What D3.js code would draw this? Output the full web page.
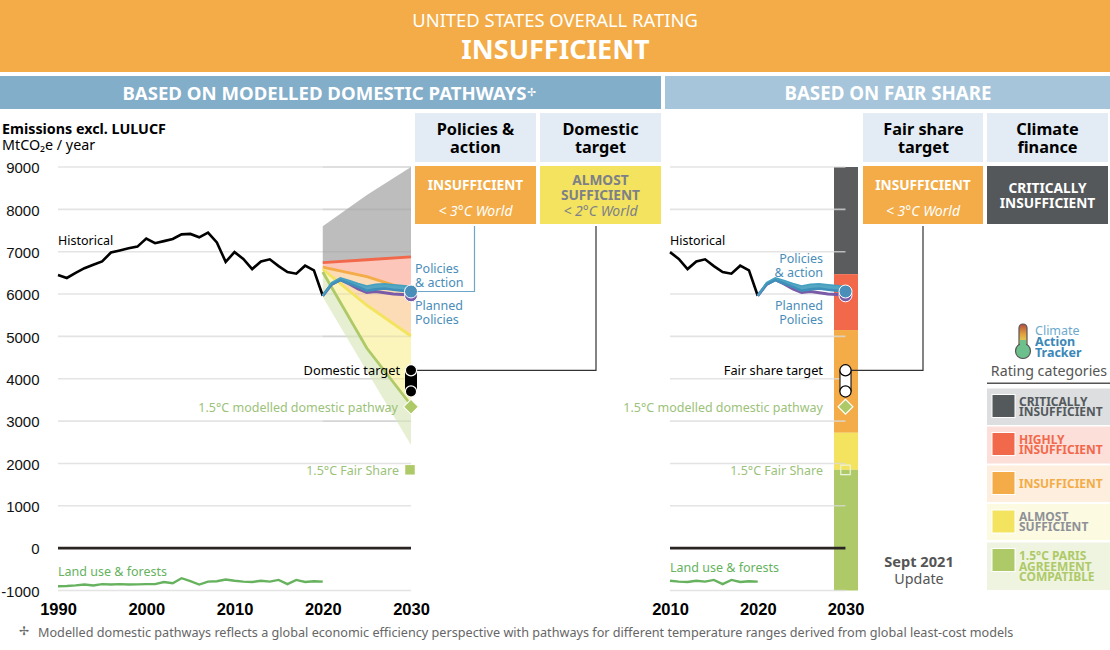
<!DOCTYPE html>
<html><head><meta charset="utf-8">
<script src="https://cdn.jsdelivr.net/npm/d3@7"></script>
<style>html,body{margin:0;padding:0;background:#fff}svg{display:block;font-family:"Noto Sans",sans-serif}</style>
</head><body><svg id="c" width="1110" height="650"></svg>
<script>
const histYears=d3.range(1990,2021);
const historical=[6450,6380,6500,6610,6690,6770,6980,7030,7080,7120,7310,7200,7250,7300,7410,7420,7340,7450,7220,6760,6990,6830,6590,6770,6820,6660,6520,6480,6670,6560,5960];
const landUse=[-900,-895,-880,-860,-880,-850,-860,-850,-860,-855,-850,-850,-800,-830,-710,-780,-860,-790,-780,-740,-770,-790,-800,-770,-790,-750,-850,-750,-800,-780,-790];
const rangeYears=[2020,2025,2030];
const greyTop=[7600,8340,9000];
const redLine=[6740,6810,6880];
const orangeLine=[6635,6410,6080];
const yellowLine=[6585,5735,5010];
const greenLine=[6520,4720,3380];
const greenBottom=[5930,4180,2435];
const policyYears=d3.range(2020,2031);
const policyUpper=[5960,6270,6380,6320,6250,6190,6230,6240,6220,6200,6180];
const policyLower=[5960,6230,6330,6250,6170,6080,6110,6130,6100,6080,6060];
const plannedPolicies=[5960,6230,6340,6240,6120,6040,6060,6030,6000,5990,5970];
const domesticTarget=[4200,3700];
const fairTarget=[4200,3700];
const modelled15=3340;
const fairShare15=1850;
const ratingBounds=[9000,6470,5150,2725,1850,-1000];
const ratingColours=["#5a5c5e","#f1684a","#f3ac47","#f3e35f","#aeca68"];
const yTicks=[9000,8000,7000,6000,5000,4000,3000,2000,1000,0,-1000];
const xTicksL=[1990,2000,2010,2020,2030];
const xTicksR=[2010,2020,2030];
const legendItems=[
 {lines:["CRITICALLY","INSUFFICIENT"],bg:"#dcdee0",sw:"#54595c",tx:"#54595c"},
 {lines:["HIGHLY","INSUFFICIENT"],bg:"#fddfd9",sw:"#f1684a",tx:"#f1684a"},
 {lines:["INSUFFICIENT"],bg:"#fdeedd",sw:"#f3ac47",tx:"#f3ac47"},
 {lines:["ALMOST","SUFFICIENT"],bg:"#fdfae2",sw:"#f3e35f",tx:"#8e9196"},
 {lines:["1.5°C PARIS","AGREEMENT","COMPATIBLE"],bg:"#eff4e1",sw:"#aeca68",tx:"#aeca68"}];

const svg=d3.select("#c");
const y=d3.scaleLinear().domain([-1000,9000]).range([590.5,167]);
const xL=d3.scaleLinear().domain([1990,2030]).range([58,411]);
const xR=d3.scaleLinear().domain([2010,2030]).range([670,845.5]);
const BLUE="#4a8db8",GREEN="#9cc27a",ORG="#f3ac47";

function rect(x,yy,w,h,f){return svg.append("rect").attr("x",x).attr("y",yy).attr("width",w).attr("height",h).attr("fill",f);}
function text(x,yy,s,o={}){const t=svg.append("text").attr("x",x).attr("y",yy).text(s)
 .attr("text-anchor",o.a||"start").attr("font-size",o.s||12.5).attr("fill",o.c||"#000")
 .attr("font-weight",o.w||400);if(o.i)t.attr("font-style","italic");return t;}

// header
rect(0,0,1110,72,ORG);
text(555,27,"UNITED STATES OVERALL RATING",{a:"middle",s:18.4,c:"#fff"});
text(555.5,59,"INSUFFICIENT",{a:"middle",s:27,c:"#fff",w:700});
rect(0,76,661,33,"#83aeca");rect(665,76,445,33,"#a6c5da");
text(324.5,99.5,"BASED ON MODELLED DOMESTIC PATHWAYS",{a:"middle",s:18.6,c:"#fff",w:700});
text(527,96,"✢",{s:11,c:"#fff"});
text(888,99.5,"BASED ON FAIR SHARE",{a:"middle",s:18.7,c:"#fff",w:700});

// column headers
[[415,["Policies &","action"]],[540,["Domestic","target"]],[863,["Fair share","target"]],[987,["Climate","finance"]]].forEach(([x,l])=>{
 rect(x,113,x==863?120:121,49,"#e3ecf4");
 l.forEach((s,i)=>text(x+60.5,135+i*18,s,{a:"middle",s:16.3,w:700}));
});
rect(415,166,121,58,ORG);rect(540,166,121,58,"#f3e35f");rect(863,166,120,58,ORG);rect(987,166,121,58,"#54585a");
text(475.5,190,"INSUFFICIENT",{a:"middle",s:13.7,c:"#fff",w:700});
text(475.5,216,"< 3°C World",{a:"middle",s:14,c:"#fff",i:1,w:400});
text(600.5,185,"ALMOST",{a:"middle",s:13.7,c:"#7d8088",w:700});
text(600.5,200,"SUFFICIENT",{a:"middle",s:13.7,c:"#7d8088",w:700});
text(600.5,216,"< 2°C World",{a:"middle",s:14,c:"#7d8088",i:1,w:400});
text(923,190,"INSUFFICIENT",{a:"middle",s:13.7,c:"#fff",w:700});
text(923,216,"< 3°C World",{a:"middle",s:14,c:"#fff",i:1,w:400});
text(1047.5,193,"CRITICALLY",{a:"middle",s:13.7,c:"#fff",w:700});
text(1047.5,208,"INSUFFICIENT",{a:"middle",s:13.7,c:"#fff",w:700});

// titles
text(2,134,"Emissions excl. LULUCF",{s:14.3,w:700});
text(2,150,"MtCO₂e / year",{s:14.3});

// grid
function grid(x,a,b){svg.append("g").selectAll("line").data(yTicks).join("line")
 .attr("x1",x(a)).attr("x2",x(b)).attr("y1",d=>y(d)).attr("y2",d=>y(d))
 .attr("stroke","#e4e4e4").attr("stroke-width",1.6);}
grid(xL,1990,2030);

// right bar
const bars=ratingColours.map((c,i)=>({c,a:ratingBounds[i],b:ratingBounds[i+1]}));
svg.append("g").selectAll("rect").data(bars).join("rect")
 .attr("x",xR(2030)-11.5).attr("width",24).attr("y",d=>y(d.a)).attr("height",d=>y(d.b)-y(d.a)).attr("fill",d=>d.c);
svg.append("g").attr("opacity",.75).call(g=>g.selectAll("line").data(yTicks).join("line")
 .attr("x1",xR(2010)).attr("x2",xR(2030)).attr("y1",d=>y(d)).attr("y2",d=>y(d))
 .attr("stroke","#dcdcdc").attr("stroke-width",1.6));

// left fans
function band(top,bot,fill){const a=d3.area().x((d,i)=>xL(rangeYears[i])).y0((d,i)=>y(bot[i])).y1((d,i)=>y(top[i]));
 svg.append("path").attr("d",a(rangeYears)).attr("fill",fill);}
band(greyTop,redLine,"#bdbdbd");
band(redLine,orangeLine,"#fcc6ba");
band(orangeLine,yellowLine,"#fbdcb6");
band(yellowLine,greenLine,"#fbf5bb");
band(greenLine,greenBottom,"#e6efd2");
// gridlines showing through the fans
svg.append("g").selectAll("line").data(yTicks.filter(d=>d>=3000)).join("line")
 .attr("x1",xL(2020)).attr("x2",xL(2030)).attr("y1",d=>y(d)).attr("y2",d=>y(d))
 .attr("stroke","#777").attr("stroke-opacity",.13).attr("stroke-width",1.6);
function rline(v,c){const l=d3.line().x((d,i)=>xL(rangeYears[i])).y(d=>y(d));
 svg.append("path").attr("d",l(v)).attr("fill","none").attr("stroke",c).attr("stroke-width",2.8);}
rline(redLine,"#f1684a");rline(orangeLine,ORG);rline(yellowLine,"#f3e35f");rline(greenLine,"#aeca68");

// connector lines
const conn=d3.line();
svg.append("path").attr("d",conn([[474.5,226],[474.5,y(policyLower[10])],[xL(2030),y(policyLower[10])]])).attr("fill","none").attr("stroke","#6ea6c9").attr("stroke-width",1.2);
svg.append("path").attr("d",conn([[596,226],[596,y(domesticTarget[0])],[xL(2030),y(domesticTarget[0])]])).attr("fill","none").attr("stroke","#333").attr("stroke-width",1.2);
svg.append("path").attr("d",conn([[923,226],[923,y(fairTarget[0])],[xR(2030),y(fairTarget[0])]])).attr("fill","none").attr("stroke","#333").attr("stroke-width",1.2);

// series
function drawSeries(x,from){
 const idx=histYears.map((d,i)=>i).filter(i=>histYears[i]>=from);
 const l=d3.line().x(i=>x(histYears[i])).y(i=>y(historical[i]));
 svg.append("path").attr("d",l(idx)).attr("fill","none").attr("stroke","#000").attr("stroke-width",2.6).attr("stroke-linejoin","miter");
 const u=d3.line().x(i=>x(histYears[i])).y(i=>y(landUse[i]));
 svg.append("path").attr("d",u(idx)).attr("fill","none").attr("stroke","#66b25e").attr("stroke-width",2.4);
 svg.append("line").attr("x1",x(from)).attr("x2",x(2030)).attr("y1",y(0)).attr("y2",y(0)).attr("stroke","#2a2422").attr("stroke-width",2.6);
 const pl=d3.line().x((d,i)=>x(policyYears[i])).y(d=>y(d));
 svg.append("path").attr("d",pl(plannedPolicies)).attr("fill","none").attr("stroke","#7a5ba8").attr("stroke-width",3);
 const ar=d3.area().x((d,i)=>x(policyYears[i])).y0((d,i)=>y(policyLower[i])).y1((d,i)=>y(policyUpper[i]));
 svg.append("path").attr("d",ar(policyYears)).attr("fill","#55a6c2");
 svg.append("path").attr("d",pl(policyLower)).attr("fill","none").attr("stroke","#3f8fbb").attr("stroke-width",2.6);
 svg.append("path").attr("d",pl(policyUpper)).attr("fill","none").attr("stroke","#45a0c0").attr("stroke-width",1.6);
 svg.append("circle").attr("cx",x(2030)).attr("cy",y(plannedPolicies[10])).attr("r",6.5).attr("fill","#7a5ba8").attr("stroke","#fff").attr("stroke-width",1);
 svg.append("circle").attr("cx",x(2030)).attr("cy",y(policyLower[10])).attr("r",6.5).attr("fill","#4a8fba").attr("stroke","#fff").attr("stroke-width",1);
}
drawSeries(xL,1990);drawSeries(xR,2010);

function pill(x,vals,fill,stroke,edge){
 const t=y(vals[0]),b=y(vals[1]);
 svg.append("rect").attr("x",x-5.5).attr("width",11).attr("y",t).attr("height",b-t).attr("fill",fill).attr("stroke",edge).attr("stroke-width",1);
 vals.forEach(v=>svg.append("circle").attr("cx",x).attr("cy",y(v)).attr("r",5.6).attr("fill",fill).attr("stroke",stroke).attr("stroke-width",1.2));
}
pill(xL(2030),domesticTarget,"#000","#fff","#000");
pill(xR(2030),fairTarget,"#fff","#000","#000");

const dia=d3.symbol().type(d3.symbolSquare).size(110);
svg.append("path").attr("d",dia()).attr("transform",`translate(${xL(2030)},${y(modelled15)}) rotate(45)`).attr("fill","#aeca68").attr("stroke","#fff").attr("stroke-width",1);
svg.append("path").attr("d",dia()).attr("transform",`translate(${xR(2030)},${y(modelled15)}) rotate(45)`).attr("fill","#aeca68").attr("stroke","#fff").attr("stroke-width",1.2);
const sq=d3.symbol().type(d3.symbolSquare).size(90);
svg.append("path").attr("d",sq()).attr("transform",`translate(${xL(2030)-1},${y(fairShare15)})`).attr("fill","#aeca68");
svg.append("path").attr("d",sq()).attr("transform",`translate(${xR(2030)},${y(fairShare15)})`).attr("fill","none").attr("stroke","#eef3dd").attr("stroke-width",1.2);

// axes
const ya=d3.axisLeft(y).tickValues(yTicks).tickFormat(d=>d).tickSize(0).tickPadding(0);
svg.append("g").attr("transform","translate(39.5,1)").call(ya).call(g=>g.select(".domain").remove())
 .selectAll("text").attr("font-family","inherit").attr("font-size",15).attr("fill","#111");
function xa(x,ticks){const a=d3.axisBottom(x).tickValues(ticks).tickFormat(d=>d).tickSize(0).tickPadding(0);
 svg.append("g").attr("transform","translate(0,603)").call(a).call(g=>g.select(".domain").remove())
 .selectAll("text").attr("font-family","inherit").attr("font-size",16.5).attr("font-weight",700).attr("fill","#000");}
xa(xL,xTicksL);xa(xR,xTicksR);

// labels left
text(58,245,"Historical",{s:12.5});
text(415,272.5,"Policies",{s:12.5,c:BLUE});text(415,286.5,"& action",{s:12.5,c:BLUE});
text(415,310,"Planned",{s:12.5,c:BLUE});text(415,323.5,"Policies",{s:12.5,c:BLUE});
text(400,374.5,"Domestic target",{s:12.8,a:"end"});
text(398,412,"1.5°C modelled domestic pathway",{s:12.5,a:"end",c:GREEN});
text(399,475,"1.5°C Fair Share",{s:12.5,a:"end",c:GREEN});
text(58,576,"Land use & forests",{s:12.5,c:"#66b25e"});
// labels right
text(670,245,"Historical",{s:12.5});
text(823,263,"Policies",{s:12.5,a:"end",c:BLUE});text(823,276.5,"& action",{s:12.5,a:"end",c:BLUE});
text(823,310,"Planned",{s:12.5,a:"end",c:BLUE});text(823,323.5,"Policies",{s:12.5,a:"end",c:BLUE});
text(823,374.5,"Fair share target",{s:12.8,a:"end"});
text(823,412,"1.5°C modelled domestic pathway",{s:12.5,a:"end",c:GREEN});
text(823,475,"1.5°C Fair Share",{s:12.5,a:"end",c:GREEN});
text(670,572,"Land use & forests",{s:12.5,c:"#66b25e"});
text(919,567,"Sept 2021",{a:"middle",s:14.6,c:"#555",w:700});
text(919,584,"Update",{a:"middle",s:14.3,c:"#555"});

// footnote
text(19,635,"✢",{s:12,c:"#666"});
text(38,637,"Modelled domestic pathways reflects a global economic efficiency perspective with pathways for different temperature ranges derived from global least-cost models",{s:12.65,c:"#666"});

// logo
const defs=svg.append("defs");
const gr=defs.append("linearGradient").attr("id","th").attr("x1",0).attr("x2",0).attr("y1",0).attr("y2",1);
[["0","#b14c3f"],["0.3","#e2a23f"],["0.55","#e3d25a"],["1","#6cc08b"]].forEach(([o,c])=>gr.append("stop").attr("offset",o).attr("stop-color",c));
rect(1019,324,8,34,"url(#th)").attr("rx",4).attr("stroke","#555").attr("stroke-width",1.2);
svg.append("circle").attr("cx",1023).attr("cy",351).attr("r",7.5).attr("fill","#6cc08b").attr("stroke","#555").attr("stroke-width",1.2);
rect(1020,340,6,12,"#6cc08b");
text(1035,335,"Climate",{s:12.5,c:"#6ea9cd"});
text(1035,346,"Action",{s:12.5,c:"#3a87b8",w:700});
text(1035,357,"Tracker",{s:12.5,c:"#3a87b8",w:700});

// legend
text(1049,376,"Rating categories",{a:"middle",s:14.2,c:"#555"});
rect(987,382.5,123,1.5,"#555");
const tops=[388.5,426.5,465.5,504,542.5],hs=[36.5,37,36.5,36,47.5];
legendItems.forEach((d,i)=>{
 rect(987,tops[i],123,hs[i],d.bg);
 rect(992,tops[i]+6,23,23,d.sw).attr("stroke","#fff").attr("stroke-width",1);
 const n=d.lines.length,lh=10.2;
 const start=tops[i]+hs[i]/2-(n-1)*lh/2+4.3;
 d.lines.forEach((s,j)=>text(1019,start+j*lh,s,{s:12,c:d.tx,w:700}));
});
</script></body></html>
